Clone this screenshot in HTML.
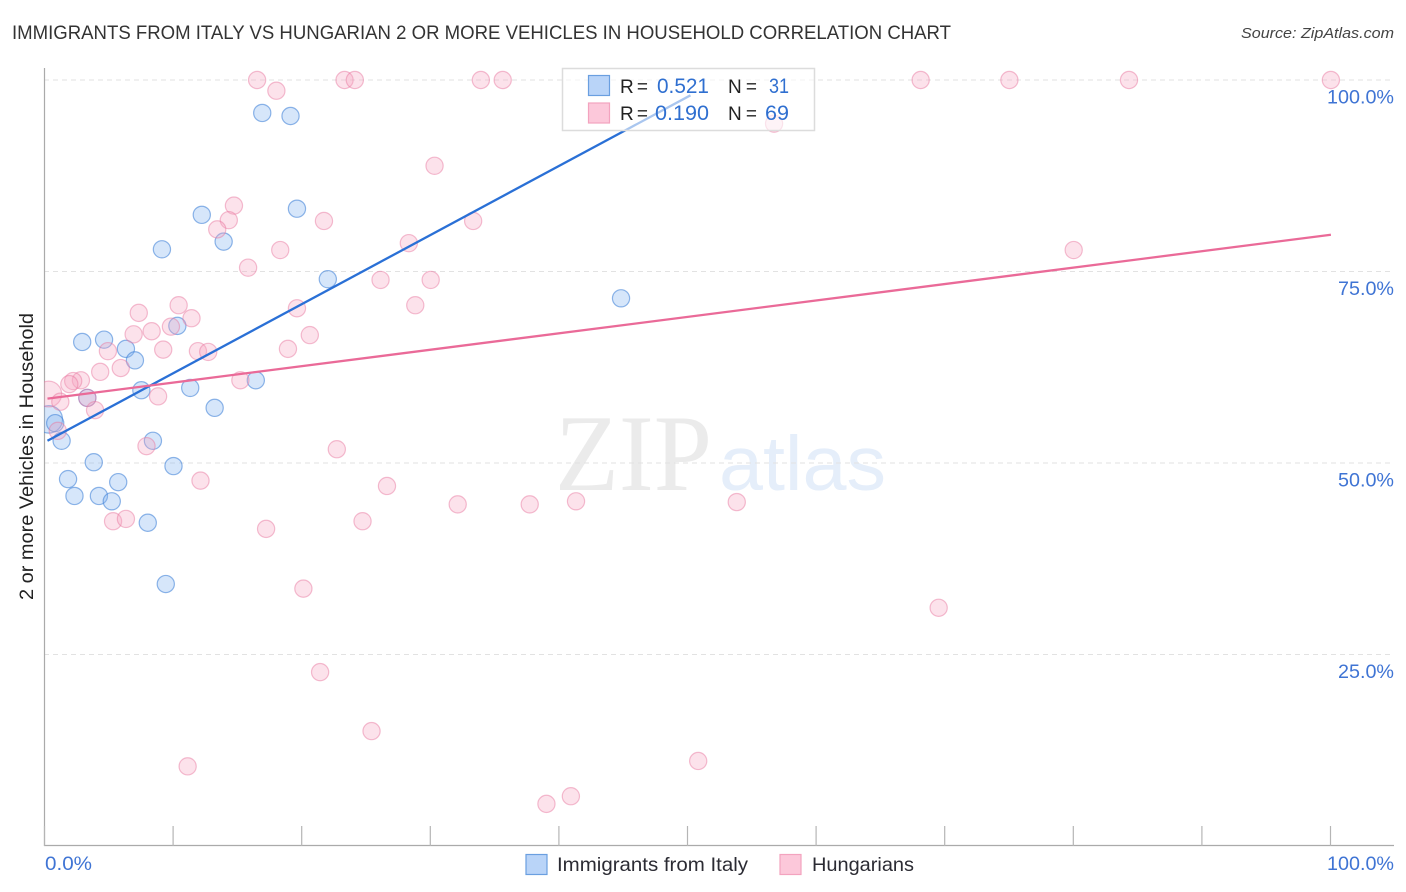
<!DOCTYPE html>
<html lang="en">
<head>
<meta charset="utf-8">
<title>Immigrants from Italy vs Hungarian 2 or more Vehicles in Household Correlation Chart</title>
<style>
html,body{margin:0;padding:0;background:#fff;}
svg{display:block;font-family:"Liberation Sans",sans-serif;}
</style>
</head>
<body>
<svg id="chart" width="1406" height="892" viewBox="0 0 1406 892" xmlns="http://www.w3.org/2000/svg">
  <defs><clipPath id="plot-clip"><rect x="44" y="60" width="1350" height="786"/></clipPath></defs>
  <text x="12" y="39" font-size="19.5" fill="#333" textLength="939" lengthAdjust="spacingAndGlyphs">IMMIGRANTS FROM ITALY VS HUNGARIAN 2 OR MORE VEHICLES IN HOUSEHOLD CORRELATION CHART</text>
  <text x="1394" y="38" font-size="15" font-style="italic" fill="#444" text-anchor="end" textLength="153" lengthAdjust="spacingAndGlyphs">Source: ZipAtlas.com</text>
  <g>
    <text x="555" y="490" font-family="'Liberation Serif',serif" font-size="109" fill="#ebebeb" textLength="157" lengthAdjust="spacingAndGlyphs">ZIP</text>
    <text x="719" y="490" font-size="77" fill="#e5eefa" textLength="167" lengthAdjust="spacingAndGlyphs">atlas</text>
  </g>
  <g id="grid"></g>
  <g id="axes"></g>
  <g id="points" clip-path="url(#plot-clip)"></g>
  <g id="trends"></g>
  <g id="labels"></g>
  <text transform="translate(33,456.5) rotate(-90)" font-size="19.5" fill="#222" text-anchor="middle" textLength="287" lengthAdjust="spacingAndGlyphs">2 or more Vehicles in Household</text>

  <g>
    <rect x="562.5" y="68.5" width="252" height="62" fill="#fff" fill-opacity="0.6" stroke="#dcdcdc" stroke-width="1.5"/>
    <rect x="588.5" y="75.5" width="21" height="20" fill="#b9d4f8" stroke="#6a9fe0" stroke-width="1.2"/>
    <rect x="588.5" y="103" width="21" height="20" fill="#fcc8da" stroke="#f3a3bf" stroke-width="1.2"/>
    <text x="620" y="93" font-size="19" fill="#222" textLength="28">R =</text>
    <text x="657" y="93" font-size="21" fill="#2f6fd0" textLength="52" lengthAdjust="spacingAndGlyphs">0.521</text>
    <text x="728" y="93" font-size="19" fill="#222" textLength="29">N =</text>
    <text x="769" y="93" font-size="21" fill="#2f6fd0" textLength="20" lengthAdjust="spacingAndGlyphs">31</text>
    <text x="620" y="120" font-size="19" fill="#222" textLength="28">R =</text>
    <text x="655" y="120" font-size="21" fill="#2f6fd0" textLength="54" lengthAdjust="spacingAndGlyphs">0.190</text>
    <text x="728" y="120" font-size="19" fill="#222" textLength="29">N =</text>
    <text x="765" y="120" font-size="21" fill="#2f6fd0" textLength="24" lengthAdjust="spacingAndGlyphs">69</text>
  </g>

  <g>
    <rect x="526" y="854.5" width="21" height="20" fill="#b9d4f8" stroke="#6a9fe0" stroke-width="1.2"/>
    <text x="557" y="871" font-size="19.5" fill="#2b2b33" textLength="191" lengthAdjust="spacingAndGlyphs">Immigrants from Italy</text>
    <rect x="780" y="854.5" width="21" height="20" fill="#fcc8da" stroke="#f3a3bf" stroke-width="1.2"/>
    <text x="812" y="871" font-size="19.5" fill="#2b2b33" textLength="102" lengthAdjust="spacingAndGlyphs">Hungarians</text>
  </g>
</svg>
<script>
// Data values (percent)
const xTicks = [0, 10, 20, 30, 40, 50, 60, 70, 80, 90, 100];
const yTicks = [100, 75, 50, 25];
const yTickLabels = ["100.0%", "75.0%", "50.0%", "25.0%"];
const xEndLabels = ["0.0%", "100.0%"];

const italyX = [16.9,19.1,19.6,12.2,9.1,13.9,22.0,44.8,10.3,4.6,2.9,6.3,7.0,16.4,11.3,7.5,3.3,13.2,0.3,0.8,1.3,8.4,3.8,10.0,1.8,5.7,2.3,4.2,5.2,8.0,9.4];
const italyY = [95.7,95.3,83.2,82.4,77.9,78.9,74.0,71.5,67.9,66.1,65.8,64.9,63.4,60.8,59.8,59.5,58.5,57.2,55.7,55.2,52.9,52.9,50.1,49.6,47.9,47.5,45.7,45.7,45.0,42.2,34.2];
const italySize = [1,1,1,1,1,1,1,1,1,1,1,1,1,1,1,1,1,1,1.6,1,1,1,1,1,1,1,1,1,1,1,1];

const hungarianX = [16.5,23.3,24.1,33.9,35.6,68.1,75.0,84.3,100,18.0,56.7,30.3,14.7,14.3,13.4,21.7,33.3,28.3,18.3,80.0,15.8,26.1,30.0,28.8,19.6,10.4,7.3,11.4,9.8,8.3,6.9,20.6,18.9,4.9,9.2,11.9,12.7,5.9,4.3,15.2,2.8,2.2,1.9,0.3,1.2,3.3,8.8,3.9,1.0,7.9,22.7,12.1,26.6,32.1,37.7,41.3,53.8,24.7,5.3,6.3,17.2,20.1,69.5,21.4,25.4,11.1,50.8,39.0,40.9];
const hungarianY = [100,100,100,100,100,100,100,100,100,98.6,94.3,88.8,83.6,81.7,80.5,81.6,81.6,78.7,77.8,77.8,75.5,73.9,73.9,70.6,70.2,70.6,69.6,68.9,67.8,67.2,66.8,66.7,64.9,64.6,64.8,64.6,64.5,62.4,61.9,60.8,60.8,60.7,60.3,59.0,58.0,58.5,58.7,56.9,54.2,52.2,51.8,47.7,47.0,44.6,44.6,45.0,44.9,42.4,42.4,42.7,41.4,33.6,31.1,22.7,15.0,10.4,11.1,5.5,6.5];
const hungarianSize = [1,1,1,1,1,1,1,1,1,1,1,1,1,1,1,1,1,1,1,1,1,1,1,1,1,1,1,1,1,1,1,1,1,1,1,1,1,1,1,1,1,1,1,1.5,1,1,1,1,1,1,1,1,1,1,1,1,1,1,1,1,1,1,1,1,1,1,1,1,1];

const italyTrendX = [0.2, 50.2];
const italyTrendY = [52.9, 98.0];
const hungarianTrendX = [0.2, 100];
const hungarianTrendY = [58.4, 79.8];

// Axis functions
function xScale(v) { return 44.9 + v * 12.86; }
function yScale(v) { return 846 - v * 7.66; }

const NS = 'http://www.w3.org/2000/svg';
function make(tag, attrs, parent) {
  const el = document.createElementNS(NS, tag);
  for (const k in attrs) el.setAttribute(k, attrs[k]);
  parent.appendChild(el);
  return el;
}
const grid = document.getElementById('grid');
const axes = document.getElementById('axes');
const points = document.getElementById('points');
const trends = document.getElementById('trends');
const labels = document.getElementById('labels');

yTicks.forEach(function (t) {
  const line = make('line', {x1: 44, x2: 1394, y1: yScale(t), y2: yScale(t), stroke: '#e2e2e2', 'stroke-width': 1, 'stroke-dasharray': '5 4'}, grid);
  
  
});

const yAxis = make('line', {x1: 44.5, x2: 44.5, y1: 68, y2: 846, stroke: '#aaa', 'stroke-width': 1.2}, axes);


const xAxis = make('line', {x1: 44, x2: 1394, y1: 845.5, y2: 845.5, stroke: '#aaa', 'stroke-width': 1.2}, axes);


xTicks.forEach(function (t) {
  const tick = make('line', {x1: 44.5 + t * 12.86, x2: 44.5 + t * 12.86, y1: 826, y2: 846, stroke: '#b5b5b5', 'stroke-width': 1.2}, axes);
  
  
});

function drawPoints(xs, ys, sizes, fill, stroke, strokeOpacity, name) {
  xs.forEach(function (x, i) {
    const c = make('circle', {cx: xScale(x), cy: yScale(ys[i]), r: 8.6 * sizes[i], fill: fill, 'fill-opacity': 0.32, stroke: stroke, 'stroke-opacity': strokeOpacity, 'stroke-width': 1.2}, points);
    
    
  });
}
drawPoints(italyX, italyY, italySize, '#7fb0ee', '#3f82d8', 0.58, 'italy-point');
drawPoints(hungarianX, hungarianY, hungarianSize, '#f7a6c2', '#e9789f', 0.48, 'hungarian-point');

const italyLine = make('line', {x1: xScale(italyTrendX[0]), y1: yScale(italyTrendY[0]), x2: xScale(italyTrendX[1]), y2: yScale(italyTrendY[1]), stroke: '#2a70d6', 'stroke-width': 2.3}, trends);


const hungarianLine = make('line', {x1: xScale(hungarianTrendX[0]), y1: yScale(hungarianTrendY[0]), x2: xScale(hungarianTrendX[1]), y2: yScale(hungarianTrendY[1]), stroke: '#ea6a98', 'stroke-width': 2.3}, trends);



yTicks.forEach(function (t, i) {
  const label = make('text', {x: 1394, y: yScale(t) + 23.5, 'font-size': 19.5, fill: '#3f74d4', 'text-anchor': 'end', textLength: yTickLabels[i].length > 5 ? 67 : 56, lengthAdjust: 'spacingAndGlyphs'}, labels);
  label.textContent = yTickLabels[i];
  
  
});
const xStart = make('text', {x: 45, y: 870, 'font-size': 19.5, fill: '#3f74d4', textLength: 47, lengthAdjust: 'spacingAndGlyphs'}, labels);
xStart.textContent = xEndLabels[0];


const xEnd = make('text', {x: 1394, y: 870, 'font-size': 19.5, fill: '#3f74d4', 'text-anchor': 'end', textLength: 67, lengthAdjust: 'spacingAndGlyphs'}, labels);
xEnd.textContent = xEndLabels[1];


</script>
</body>
</html>
